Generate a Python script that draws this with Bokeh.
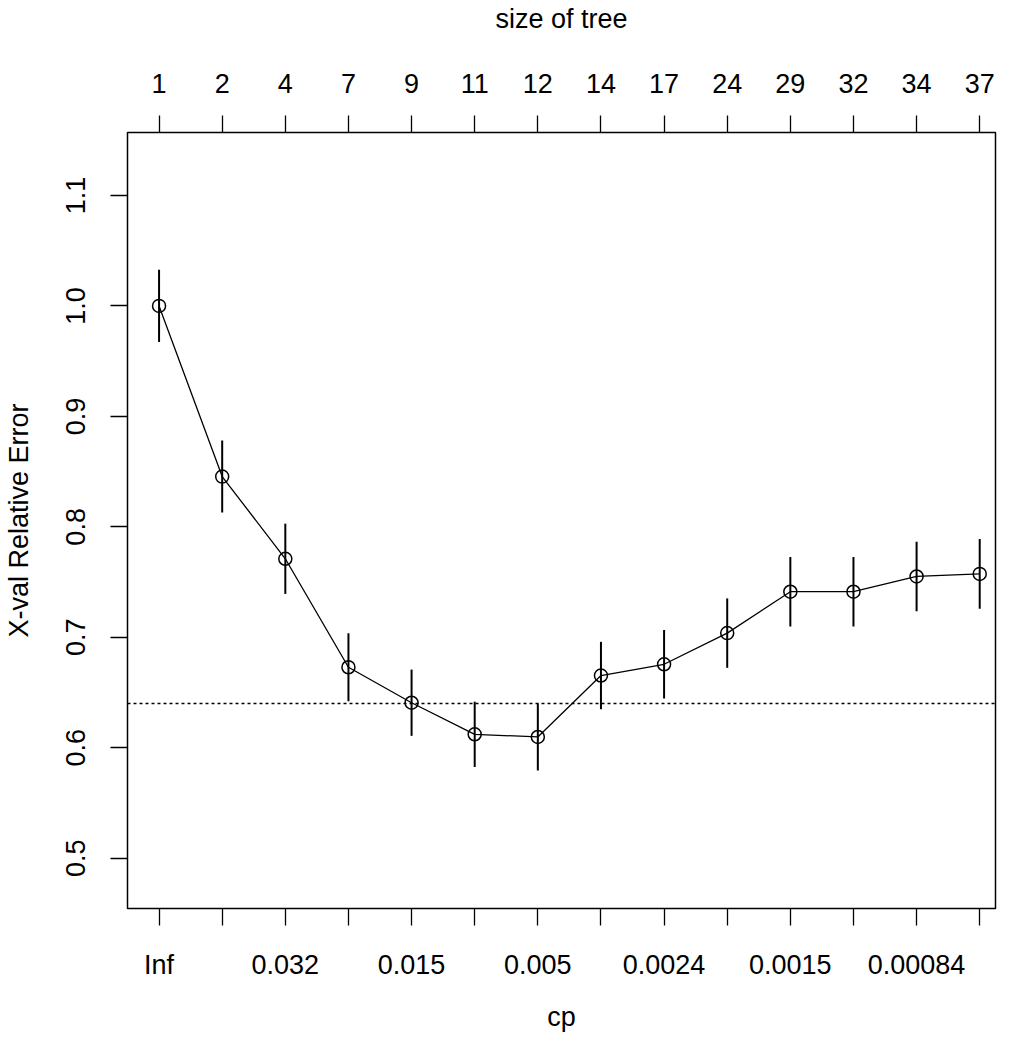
from bokeh.plotting import figure
from bokeh.models import Range1d, LinearAxis, FixedTicker, Span, ColumnDataSource
from bokeh.embed import file_html
from bokeh.resources import INLINE

# ---- data ----
tree_size = [1, 2, 4, 7, 9, 11, 12, 14, 17, 24, 29, 32, 34, 37]
cp_labels = ["Inf", "", "0.032", "", "0.015", "", "0.005", "", "0.0024", "", "0.0015", "", "0.00084", ""]
xerror = [1.000, 0.8455, 0.7711, 0.6729, 0.6408, 0.6122, 0.6098, 0.6654, 0.6756, 0.7038, 0.7413, 0.7413, 0.7551, 0.7574]
xstd = [0.0327, 0.0326, 0.0318, 0.0308, 0.0300, 0.0295, 0.0304, 0.0305, 0.0310, 0.0314, 0.0314, 0.0314, 0.0314, 0.0315]
threshold = 0.640
y_ticks = [0.5, 0.6, 0.7, 0.8, 0.9, 1.0, 1.1]
y_tick_labels = ["0.5", "0.6", "0.7", "0.8", "0.9", "1.0", "1.1"]

idx = list(range(1, len(tree_size) + 1))
src = ColumnDataSource(dict(
    x=idx, y=xerror,
    lo=[m - s for m, s in zip(xerror, xstd)],
    hi=[m + s for m, s in zip(xerror, xstd)],
))

FONT = "Liberation Sans, Arial, sans-serif"
FS = "27px"

p = figure(width=997, height=1034, output_backend="svg", toolbar_location=None,
           x_range=Range1d(0.5, 14.25), y_range=Range1d(0.4545, 1.157),
           x_axis_location=None, y_axis_location=None,
           min_border_left=125, min_border_right=2, min_border_top=125, min_border_bottom=122)
p.xgrid.visible = False
p.ygrid.visible = False
p.outline_line_color = "black"
p.outline_line_width = 1.5
p.background_fill_color = "white"
p.border_fill_color = "white"


def style(ax, standoff, label_standoff):
    ax.axis_line_color = None
    ax.major_tick_out = 17
    ax.major_tick_in = 0
    ax.minor_tick_out = 0
    ax.minor_tick_in = 0
    ax.major_tick_line_width = 1.3
    ax.major_tick_line_color = "black"
    ax.major_label_text_font = FONT
    ax.major_label_text_font_size = FS
    ax.major_label_text_color = "black"
    ax.major_label_standoff = standoff
    ax.axis_label_text_font = FONT
    ax.axis_label_text_font_size = FS
    ax.axis_label_text_font_style = "normal"
    ax.axis_label_text_color = "black"
    ax.axis_label_standoff = label_standoff


bottom = LinearAxis(axis_label="cp")
bottom.ticker = FixedTicker(ticks=idx)
bottom.major_label_overrides = {i: lab for i, lab in zip(idx, cp_labels)}
style(bottom, 24, 19)
p.add_layout(bottom, "below")

top = LinearAxis(axis_label="size of tree")
top.ticker = FixedTicker(ticks=idx)
top.major_label_overrides = {i: str(s) for i, s in zip(idx, tree_size)}
style(top, 23, 37)
p.add_layout(top, "above")

left = LinearAxis(axis_label="X-val Relative Error")
left.ticker = FixedTicker(ticks=y_ticks)
left.major_label_overrides = {t: l for t, l in zip(y_ticks, y_tick_labels)}
left.major_label_orientation = "vertical"
style(left, 25, 30)
p.add_layout(left, "left")

p.add_layout(Span(location=threshold, dimension="width", line_color="black",
                  line_dash="3 3", line_width=1.5))

p.segment(x0="x", y0="lo", x1="x", y1="hi", source=src, line_color="black", line_width=2)
p.line(x="x", y="y", source=src, line_color="black", line_width=1.3)
p.scatter(x="x", y="y", source=src, size=13, marker="circle", fill_color=None,
          line_color="black", line_width=1.5)

open("out.html", "w").write(file_html(p, INLINE))
